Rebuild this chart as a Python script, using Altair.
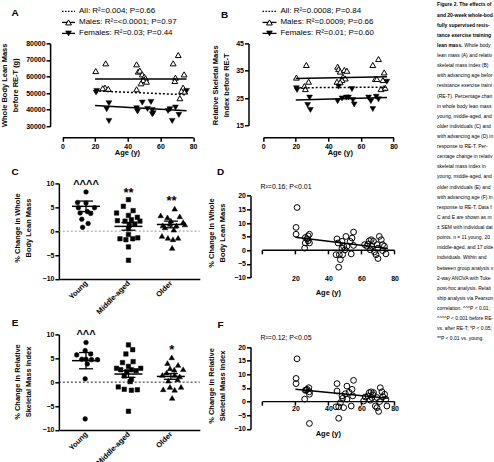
import altair as alt
import pandas as pd

FONT = "Liberation Sans, Arial, Helvetica, sans-serif"
CAP_FONT = "Liberation Sans, Arial, sans-serif"

# ---------------- Panel A: whole body lean mass (g) vs age ----------------
A_M_AGE = [20.4, 26.5, 45.4, 46.4, 47.4, 48.9, 50.1, 50.9, 49.5, 48.1, 51.5, 70.9,
           67.8, 74.5, 69.2, 68.8, 26.1, 28.1, 24.7, 45.4, 73.9, 72.9, 74.9, 71.9]
A_M_VAL = [63300, 67950, 67350, 62950, 63550, 61300, 59900, 58900, 57900, 55900, 56900, 72950,
           67950, 61300, 59300, 57300, 53300, 52500, 52900, 52300, 53300, 51300, 50900, 46900]
A_F_AGE = [21.0, 20.6, 28.5, 27.1, 28.5, 45.4, 46.0, 48.9, 52.1, 54.2, 55.0, 55.0, 55.6,
           64.7, 65.8, 67.2, 69.2, 71.3, 76.0]
A_F_VAL = [51300, 50300, 43850, 40250, 33200, 40850, 38850, 44250, 40450, 44650, 39850, 37250, 37850,
           39200, 40250, 33200, 41250, 36850, 51300]
FIT_AGE = [20, 76]
A_ALL_FIT = [51300, 49000]
A_M_FIT = [58500, 58500]
A_F_FIT = [42500, 39400]
A_TICKS = [30000, 40000, 50000, 60000, 70000, 80000]
A_LEGEND = ["All: R²=0.004; P=0.66", "Males: R²=<0.0001; P=0.97", "Females: R²=0.03; P=0.44"]
A_YTITLE = ["Whole Body Lean Mass", "before RE-T (g)"]

# ---------------- Panel B: relative skeletal mass index vs age ----------------
B_M_AGE = [20.4, 26.5, 27.9, 25.3, 25.9, 45.7, 46.3, 47.3, 49.8, 51.4, 49.0, 50.4,
           48.4, 45.3, 47.3, 70.8, 67.3, 74.3, 68.8, 69.8, 73.5, 73.9, 72.3, 74.9]
B_M_VAL = [32.5, 37.1, 31.0, 29.4, 28.3, 36.5, 35.6, 34.7, 35.3, 35.0, 32.8, 32.2,
           31.6, 31.0, 30.8, 39.3, 37.1, 34.4, 32.0, 32.0, 31.6, 28.6, 28.3, 28.8]
B_F_AGE = [20.4, 20.8, 28.5, 27.3, 29.0, 46.3, 45.7, 48.4, 51.0, 52.4, 54.5, 55.1, 55.9,
           64.7, 66.1, 67.3, 69.4, 70.8, 75.9]
B_F_VAL = [28.6, 28.0, 25.2, 22.5, 20.7, 29.2, 23.9, 24.9, 25.2, 25.2, 28.3, 24.3, 22.7,
           25.2, 23.9, 21.0, 25.5, 24.6, 31.0]
B_ALL_FIT = [28.8, 29.0]
B_M_FIT = [32.2, 32.8]
B_F_FIT = [24.3, 25.2]
B_TICKS = [15, 25, 35, 45]
B_LEGEND = ["All: R²=0.0008; P=0.84", "Males: R²=0.0009; P=0.66", "Females: R²=0.01; P=0.60"]
B_YTITLE = ["Relative Skeletal Mass", "Index before RE-T"]

AGE_TICKS = [0, 20, 40, 60, 80]
AGE_TICKS_DF = [20, 40, 60, 80]

# ---------------- Panel C: % change whole body lean mass by group ----------------
GROUPS = ["Young", "Middle-aged", "Older"]
C_YOUNG_POS = [0.0, -0.20, 0.0, -0.18, 0.20, 0.03, -0.14, 0.11, -0.10, 0.05, -0.08]
C_YOUNG_VAL = [8.2, 6.0, 5.9, 4.9, 4.9, 4.1, 3.8, 3.7, 2.5, 1.6, 0.8]
C_MID_POS = [1.0, 0.88, 1.11, 0.72, 1.0, 1.21, 0.74, 0.92, 1.27, 1.07, 1.15, 1.02, 1.0, 1.0,
             0.80, 0.94, 1.10, 1.22, 1.0, 1.0]
C_MID_VAL = [6.6, 5.2, 4.3, 3.8, 3.3, 2.9, 2.2, 2.1, 2.1, 2.4, 1.5, 1.2, 0.5, -0.7,
             -1.6, -1.8, -1.6, -1.4, -3.3, -6.1]
C_OLD_POS = [2.09, 1.76, 2.21, 1.92, 2.0, 2.29, 1.98, 2.33, 2.13, 1.81, 1.86, 2.07, 1.79,
             1.93, 2.17, 2.05, 2.03]
C_OLD_VAL = [4.7, 3.3, 3.1, 2.9, 2.2, 1.9, 1.5, 1.4, 1.2, 1.2, 0.8, 0.3, -1.0,
             -1.4, -1.4, -1.7, -3.5]
C_MEAN = [5.2, 1.0, 1.4]
C_SEM = [1.1, 0.8, 0.7]
C_YTITLE = ["% Change in Whole", "Body Lean Mass"]

# ---------------- Panel D: % change whole body lean mass vs age ----------------
D_AGE = [21.0, 20.4, 20.4, 26.0, 27.1, 28.5, 27.7, 28.5, 25.6, 26.0, 27.7,
         45.2, 45.8, 44.6, 46.6, 46.2, 47.2, 48.6, 48.2, 49.2, 50.6, 51.2, 53.2, 54.3, 55.2, 53.8, 55.2, 48.2, 50.0,
         63.9, 64.7, 65.9, 67.3, 66.3, 67.9, 68.8, 70.0, 70.8, 72.0, 72.8, 73.9, 74.8, 69.4, 65.3, 61.9, 70.0, 63.3, 72.8]
D_VAL = [15.7, 8.4, 5.9, 4.7, 4.2, 5.9, 3.5, 2.7, 0.8, 2.7, 5.3,
         4.2, 2.7, -1.6, -1.6, -6.2, -3.4, -1.6, 3.3, 1.5, 5.1, 1.5, 3.3, 4.5, 6.7, -1.3, 1.8, 0.8, 0.2,
         2.3, 3.5, 3.9, 3.3, 1.5, -0.6, -1.6, -3.0, 5.1, 3.9, 2.1, 1.5, -1.3, 2.1, 0.2, 2.1, 0.8, 1.5, -0.1]
D_FIT = [4.8, 0.7]
D_NOTE = "R²=0.16; P<0.01"

# ---------------- Panel E: % change relative skeletal mass index by group ----------------
E_YOUNG_POS = [0.0, -0.02, -0.22, 0.11, -0.10, 0.0, 0.13, 0.27, 0.03, -0.02, -0.02]
E_YOUNG_VAL = [8.3, 6.6, 5.7, 5.9, 4.8, 4.8, 4.7, 4.7, 3.8, 0.7, -7.7]
E_MID_POS = [1.0, 1.10, 0.94, 0.86, 1.11, 1.0, 0.72, 0.82, 1.07, 1.29, 0.96, 1.18, 0.90, 1.07,
             1.04, 0.76, 0.90, 1.07, 1.21, 1.0]
E_MID_VAL = [7.8, 6.8, 5.9, 4.1, 4.3, 3.3, 2.9, 2.6, 2.6, 2.9, 2.2, 2.4, 1.3, 0.6,
             0.1, -1.0, -1.5, -1.7, -1.6, -6.1]
E_OLD_POS = [2.02, 1.92, 2.17, 1.98, 2.08, 2.29, 2.09, 2.16, 1.98, 2.24, 2.09, 2.03, 1.80,
             1.82, 1.90, 2.21, 1.94]
E_OLD_VAL = [5.2, 4.0, 3.6, 2.9, 2.6, 2.7, 1.5, 0.6, -1.0, -1.0, -1.6, -3.3, 1.5,
             -1.5, 2.0, 1.2, 0.3]
E_MEAN = [4.5, 1.7, 1.2]
E_SEM = [1.7, 0.7, 0.6]
E_YTITLE = ["% Change in Relative", "Skeletal Mass Index"]

# ---------------- Panel F: % change relative skeletal mass index vs age ----------------
F_AGE = [21.0, 20.4, 20.4, 25.6, 26.0, 27.1, 28.1, 28.5, 28.5, 28.5, 26.5,
         45.2, 45.2, 44.6, 46.2, 46.2, 48.2, 49.2, 51.2, 50.2, 54.3, 55.2, 54.7, 53.8, 51.2, 47.2, 48.6, 52.5,
         63.9, 64.7, 65.9, 67.3, 66.3, 68.4, 69.4, 70.4, 71.4, 72.4, 74.0, 74.8, 75.4, 69.4, 65.3, 62.3, 61.3, 71.0, 73.0, 67.0]
F_VAL = [15.7, 8.5, 6.6, 0.9, 4.1, 4.5, 5.1, 3.6, 2.7, -8.0, 4.3,
         6.6, 3.9, -1.9, -1.9, -6.1, 2.1, -2.2, 5.7, 2.9, 4.5, 7.8, 2.1, -1.6, 0.9, -0.4, 1.2, 3.4,
         2.1, 3.3, 3.6, 3.3, 1.5, -1.6, -2.2, -3.6, 5.1, 3.6, 2.7, 0.9, -1.6, 1.5, 0.5, 1.7, 0.2, 0.0, 1.8, 2.5]
F_FIT = [4.5, 1.2]
F_NOTE = "R²=0.12; P<0.05"
DF_TICKS = [-10, -5, 0, 5, 10, 15, 20]
CE_TICKS = [-10, -5, 0, 5, 10]

# ---------------- caption ----------------
CAPTION_BOLD = ["Figure 2. The effects of age", "and 20-week whole-body", "fully supervised resis-",
                "tance exercise training on", "lean mass."]
CAPTION_L5 = "Whole body"
CAPTION_REST = ["lean mass (A) and relative", "skeletal mass index (B)", "with advancing age before",
                "resistance exercise training", "(RE-T). Percentage change", "in whole body lean mass in",
                "young, middle-aged, and", "older individuals (C) and", "with advancing age (D) in",
                "response to RE-T. Per-", "centage change in relative", "skeletal mass index in",
                "young, middle-aged, and", "older individuals (E) and", "with advancing age (F) in",
                "response to RE-T. Data for", "C and E are shown as mean", "± SEM with individual data",
                "points. n = 11 young, 20", "middle-aged, and 17 older", "individuals. Within and",
                "between group analysis via", "2-way ANOVA with Tukey's", "post-hoc analysis. Relation-",
                "ship analysis via Pearson's", "correlation. ^^^P < 0.01;", "^^^^P < 0.001 before RE-T",
                "vs. after RE-T; *P < 0.05;", "**P < 0.01 vs. young."]

# ---------------- layout ----------------
L1, L2 = 58.8, 261.9
W1, W2 = 141.2, 133.0
T1, T2, T3 = 43.0, 183.3, 334.3
H1, H2, H3 = 83.0, 93.7, 95.7
HSP = L2 - (L1 + W1)
VSP = T2 - (T1 + H1)
CAP_LH = 10.14
CAP_SIZE = 5.0


def one():
    return alt.Data(values=[{"k": 0}])


def txt(s, x, y, size=7.5, weight="normal", align="center", baseline="middle", angle=0, font=FONT, **kw):
    return alt.Chart(one()).mark_text(font=font, fontSize=size, fontWeight=weight, align=align,
                                      baseline=baseline, angle=angle, color="#000", **kw).encode(
        x=alt.value(x), y=alt.value(y), text=alt.value(s))


def ytitle(lines, x1, x2, y):
    return [txt(lines[0], x1, y, weight="bold", angle=270),
            txt(lines[1], x2, y, weight="bold", angle=270)]


def sc(domain, rng):
    return alt.Scale(domain=domain, range=rng, nice=False, zero=False)


def pts(df, X, Y, shape, style, size):
    if style == "filled":
        m = alt.Chart(df).mark_point(shape=shape, filled=True, fill="#000", stroke="#000",
                                     strokeWidth=0.5, size=size, opacity=1)
    elif style == "white":
        m = alt.Chart(df).mark_point(shape=shape, filled=True, fill="#fff", stroke="#000",
                                     strokeWidth=1, size=size, opacity=1)
    else:
        m = alt.Chart(df).mark_point(shape=shape, filled=False, stroke="#000",
                                     strokeWidth=1, size=size, opacity=1)
    return m.encode(x=X(), y=Y())


def fit_line(vals, X, Y, dash=None):
    df = pd.DataFrame({"age": FIT_AGE, "v": vals})
    kw = dict(color="#000", strokeWidth=1.5)
    if dash:
        kw["strokeDash"] = dash
    return alt.Chart(df).mark_line(**kw).encode(x=X(), y=Y())


def legend(x0, x1, xt, ys, labels):
    out = []
    xm = (x0 + x1) / 2
    for k, (lab, y) in enumerate(zip(labels, ys)):
        rk = dict(color="#000", strokeWidth=1.3)
        if k == 0:
            rk["strokeDash"] = [1.5, 1.5]
        out.append(alt.Chart(one()).mark_rule(**rk).encode(
            x=alt.value(x0), x2=alt.value(x1), y=alt.value(y)))
        if k == 1:
            out.append(alt.Chart(one()).mark_point(shape="triangle-up", filled=True, fill="#fff",
                                                   stroke="#000", strokeWidth=1, size=34, opacity=1).encode(
                x=alt.value(xm), y=alt.value(y)))
        if k == 2:
            out.append(alt.Chart(one()).mark_point(shape="triangle-down", filled=True, fill="#000",
                                                   stroke="#000", strokeWidth=0.5, size=34, opacity=1).encode(
                x=alt.value(xm), y=alt.value(y)))
        out.append(txt(lab, xt, y, size=8, align="left"))
    return out


# ---------------- panel A ----------------
def XA():
    return alt.X("age:Q", scale=sc([0, 80], [3.5, 134.5]),
                 axis=alt.Axis(values=AGE_TICKS, offset=11, title=None))


def YA():
    return alt.Y("v:Q", scale=sc([30000, 80000], [H1, 0]),
                 axis=alt.Axis(values=A_TICKS, offset=8.8, format="d", title=None))


A = alt.layer(
    alt.Chart(one()).mark_rule(color="#fff", strokeWidth=1).encode(
        x=alt.value(-58.3), y=alt.value(-42.5), y2=alt.value(-38)),
    pts(pd.DataFrame({"age": A_M_AGE, "v": A_M_VAL}), XA, YA, "triangle-up", "white", 34),
    pts(pd.DataFrame({"age": A_F_AGE, "v": A_F_VAL}), XA, YA, "triangle-down", "filled", 34),
    fit_line(A_ALL_FIT, XA, YA, dash=[2, 2]),
    fit_line(A_M_FIT, XA, YA),
    fit_line(A_F_FIT, XA, YA),
    *legend(3.2, 16.2, 20.2, [-32, -21, -10], A_LEGEND),
    txt("A", -43.8, -30.3, size=10, weight="bold"),
    *ytitle(A_YTITLE, -54.3, -42.8, 42),
    txt("Age (y)", 68.7, 110, weight="bold"),
).properties(width=W1, height=H1)


# ---------------- panel B ----------------
def XB():
    return alt.X("age:Q", scale=sc([0, 80], [0.8, 131.4]),
                 axis=alt.Axis(values=AGE_TICKS, offset=11, title=None))


def YB():
    return alt.Y("v:Q", scale=sc([15, 45], [82.3, 0]),
                 axis=alt.Axis(values=B_TICKS, offset=13.9, title=None))


cap_kw = dict(size=CAP_SIZE, align="left", baseline="alphabetic", font=CAP_FONT, ellipsis="\u200b")
CAP_X = 175.1
CAP_Y0 = -37.0
B = alt.layer(
    pts(pd.DataFrame({"age": B_M_AGE, "v": B_M_VAL}), XB, YB, "triangle-up", "white", 34),
    pts(pd.DataFrame({"age": B_F_AGE, "v": B_F_VAL}), XB, YB, "triangle-down", "filled", 34),
    fit_line(B_ALL_FIT, XB, YB, dash=[2, 2]),
    fit_line(B_M_FIT, XB, YB),
    fit_line(B_F_FIT, XB, YB),
    *legend(0.1, 14.1, 18.1, [-32, -21, -10], B_LEGEND),
    txt("B", -37.9, -28, size=10, weight="bold"),
    *ytitle(B_YTITLE, -46.9, -35.4, 42),
    txt("Age (y)", 78.1, 110, weight="bold"),
    txt(CAPTION_BOLD, CAP_X, CAP_Y0, weight="bold", lineHeight=CAP_LH, limit=56.5, **cap_kw),
    txt(CAPTION_L5, CAP_X + 27.2, CAP_Y0 + 4 * CAP_LH, limit=29.0, **cap_kw),
    txt(CAPTION_REST, CAP_X, CAP_Y0 + 5 * CAP_LH, lineHeight=CAP_LH, limit=56.5, **cap_kw),
).properties(width=W2, height=H1)

# ---------------- panels C / E ----------------
LABEL_EXPR = "[" + ",".join("'%s'" % g for g in GROUPS) + "][datum.value]"


def group_panel(ypos, yval, mpos, mval, opos, oval, means, sems, xoff, ycell_h, zero_color,
                letter, ytitle_lines, yt_y, marks):
    def X():
        return alt.X("i:Q", scale=sc([-0.64, 2.682], [0, W1]),
                     axis=alt.Axis(values=[0, 1, 2], labelExpr=LABEL_EXPR, labelAngle=315,
                                   labelAlign="right", labelBaseline="middle", labelPadding=3,
                                   ticks=False, tickSize=0, offset=xoff, labelFontSize=7.5, title=None))

    def Y():
        return alt.Y("v:Q", scale=sc([-10, 10], [95.7, 0]),
                     axis=alt.Axis(values=CE_TICKS, offset=0, title=None))

    k = list(range(len(means)))
    zero = alt.Chart(pd.DataFrame({"i": [-0.64], "i2": [2.682], "v": [0]})).mark_rule(
        color=zero_color, strokeWidth=1, strokeDash=[2, 2]).encode(x=X(), x2="i2:Q", y=Y())
    mean_r = alt.Chart(pd.DataFrame({"i": [j - 0.33 for j in k], "i2": [j + 0.33 for j in k],
                                     "v": means})).mark_rule(color="#000", strokeWidth=1.5).encode(
        x=X(), x2="i2:Q", y=Y())
    err = alt.Chart(pd.DataFrame({"i": k, "v": [m - s for m, s in zip(means, sems)],
                                  "v2": [m + s for m, s in zip(means, sems)]})).mark_rule(
        color="#000", strokeWidth=1.3).encode(x=X(), y=Y(), y2="v2:Q")
    caps = alt.Chart(pd.DataFrame({"i": [j - 0.165 for j in k] * 2, "i2": [j + 0.165 for j in k] * 2,
                                   "v": [m - s for m, s in zip(means, sems)] + [m + s for m, s in zip(means, sems)]})
                     ).mark_rule(color="#000", strokeWidth=1.3).encode(x=X(), x2="i2:Q", y=Y())
    layers = [
        zero,
        pts(pd.DataFrame({"i": ypos, "v": yval}), X, Y, "circle", "filled", 22),
        pts(pd.DataFrame({"i": mpos, "v": mval}), X, Y, "square", "filled", 20),
        pts(pd.DataFrame({"i": opos, "v": oval}), X, Y, "triangle-up", "filled", 30),
        mean_r, err, caps,
        txt(letter, -43.8, -11.3, size=10, weight="bold"),
        *ytitle(ytitle_lines, -40.5, -29.5, yt_y),
    ]
    for (s, x, y, size) in marks:
        layers.append(txt(s, x, y, size=size, weight="bold", baseline="alphabetic"))
    return alt.layer(*layers).properties(width=W1, height=ycell_h)


C = group_panel(C_YOUNG_POS, C_YOUNG_VAL, C_MID_POS, C_MID_VAL, C_OLD_POS, C_OLD_VAL,
                C_MEAN, C_SEM, 2, H2, "#999", "C", C_YTITLE, 44.7,
                [("^^^^", 27.2, 4.4, 11), ("**", 69.7, 13.7, 13), ("**", 112.9, 22, 13)])
E = group_panel(E_YOUNG_POS, E_YOUNG_VAL, E_MID_POS, E_MID_VAL, E_OLD_POS, E_OLD_VAL,
                E_MEAN, E_SEM, 0, H3, "#222", "E", E_YTITLE, 47.7,
                [("^^^", 27.2, 3.4, 11), ("*", 113.2, 19.7, 13)])


# ---------------- panels D / F ----------------
def age_panel(ages, vals, fit, yrng, xoff, cell_h, letter, ytitle_lines, yt_y, note, title_y, letter_y):
    def X():
        return alt.X("age:Q", scale=sc([0, 80], [0, 132.4]),
                     axis=alt.Axis(values=AGE_TICKS_DF, domain=False, ticks=False, tickSize=0,
                                   offset=xoff, labelPadding=0, title=None))

    def Y():
        return alt.Y("v:Q", scale=sc([-10, 20], yrng),
                     axis=alt.Axis(values=DF_TICKS, offset=11.9, title=None))

    zero = alt.Chart(pd.DataFrame({"age": [0], "a2": [80], "v": [0]})).mark_rule(
        color="#000", strokeWidth=1.5).encode(x=X(), x2="a2:Q", y=Y())
    ticks = alt.Chart(pd.DataFrame({"age": AGE_TICKS, "v": [0] * len(AGE_TICKS)})).mark_tick(
        orient="vertical", size=4, thickness=1.5, color="#000", yOffset=2, opacity=1).encode(x=X(), y=Y())
    layers = [
        zero, ticks,
        pts(pd.DataFrame({"age": ages, "v": vals}), X, Y, "circle", "open", 34),
        fit_line(fit, X, Y),
        txt(letter, -41.9, letter_y, size=10, weight="bold"),
        *ytitle(ytitle_lines, -50.2, -39.6, yt_y),
        txt(note, -1.9, 3.7, size=7, align="left"),
        txt("Age (y)", 66.1, title_y, weight="bold"),
    ]
    return alt.layer(*layers).properties(width=W2, height=cell_h)


D = age_panel(D_AGE, D_VAL, D_FIT, [94.4, 12.4], -2.5, H2, "D", C_YTITLE, 49.7, D_NOTE, 109.7, -11.3)
F = age_panel(F_AGE, F_VAL, F_FIT, [94.7, 12.7], -25, H3, "F", E_YTITLE, 51.7, F_NOTE, 99.7, -9.3)

chart = alt.concat(A, B, C, D, E, F, columns=2, spacing={"row": VSP, "column": HSP},
                   bounds="flush").properties(padding=0)

chart = chart.configure_view(stroke=None).configure_axis(
    grid=False, domainColor="#000", domainWidth=1.5, tickColor="#000", tickWidth=1.5, tickSize=4,
    labelFont=FONT, labelFontSize=7, labelFontWeight="bold", labelColor="#000", labelPadding=1,
    labelFlush=False, labelOverlap=False)

chart.save("out.html", embed_options={"renderer": "svg", "actions": False})
